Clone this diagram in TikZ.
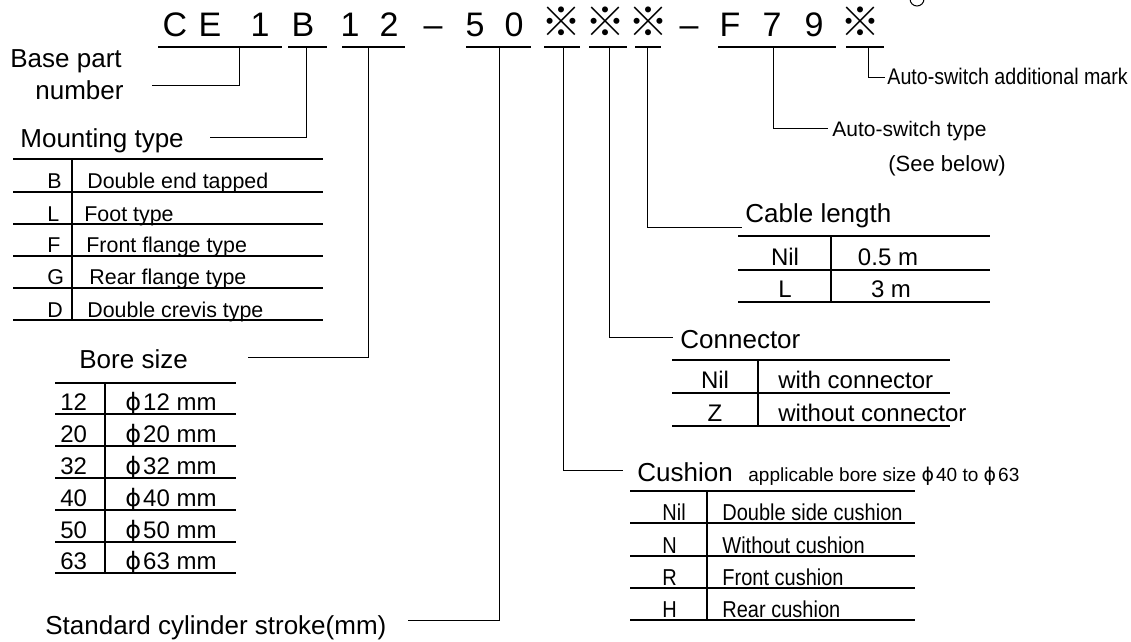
\documentclass[tikz,border=0pt]{standalone}
\usepackage{fontspec}
\setmainfont{Liberation Sans}
\newfontfamily\cjkfont{Noto Sans CJK JP}
\newfontfamily\narrowfont[FakeStretch=0.87]{Liberation Sans}
\newfontfamily\phifont{DejaVu Sans}
\newcommand{\borephi}{{\phifont ϕ}\hspace{1pt}}
\newcommand{\refmark}{{\cjkfont\fontsize{20}{22}\selectfont ※}}

\begin{document}
\begin{tikzpicture}[
  x=0.5pt, y=-0.5pt,
  code/.style={font=\fontsize{17}{20}\selectfont, inner sep=0pt, anchor=base},
  head/.style={font=\fontsize{13}{15}\selectfont, inner sep=0pt, anchor=base west},
  cell/.style={font=\fontsize{10.7}{13}\selectfont, inner sep=0pt, anchor=base west},
  bigcell/.style={font=\fontsize{12}{14}\selectfont, inner sep=0pt, anchor=base west},
  narrowcell/.style={font=\narrowfont\fontsize{11.5}{13}\selectfont, inner sep=0pt, anchor=base west},
  note/.style={font=\fontsize{10.5}{12}\selectfont, inner sep=0pt, anchor=base west},
  rule/.style={line width=0.75pt},
  lead/.style={line width=0.5pt}
]
\useasboundingbox (0,0) rectangle (1131,642);

\node[code] (c1)  at (175,37) {C};
\node[code] (c2)  at (210,37) {E};
\node[code] (c3)  at (260,37) {1};
\node[code] (c4)  at (303,37) {B};
\node[code] (c5)  at (350,37) {1};
\node[code] (c6)  at (389,37) {2};
\node[code] (c7)  at (433,37) {–};
\node[code] (c8)  at (475,37) {5};
\node[code] (c9)  at (514,37) {0};
\node[code] (c10) at (561,37) {\refmark};
\node[code] (c11) at (605,37) {\refmark};
\node[code] (c12) at (648,37) {\refmark};
\node[code] (c13) at (689,37) {–};
\node[code] (c14) at (730,37) {F};
\node[code] (c15) at (772,37) {7};
\node[code] (c16) at (814,37) {9};
\node[code] (c17) at (860,37) {\refmark};
\draw[lead] (917,-1) circle[radius=3.5pt];

\foreach \a/\b in {158/282, 288/327, 342/405, 466/531, 544/580, 589/627, 635/661, 718/836, 846/884}
  \draw[rule] (\a,47) -- (\b,47);

\coordinate (k1) at (239,47);
\coordinate (k2) at (306,47);
\coordinate (k3) at (368,47);
\coordinate (k4) at (499,47);
\coordinate (k5) at (563,47);
\coordinate (k6) at (609,47);
\coordinate (k7) at (647,47);
\coordinate (k8) at (773,47);
\coordinate (k9) at (868,47);
\coordinate (e1) at (152,86);
\coordinate (e2) at (210,138);
\coordinate (e3) at (248,357);
\coordinate (e4) at (408,620);
\coordinate (e5) at (623,470);
\coordinate (e6) at (673,337);
\coordinate (e7) at (742,228);
\coordinate (e8) at (828,129);
\coordinate (e9) at (885,78);
\draw[lead] (k1) |- (e1);
\draw[lead] (k2) |- (e2);
\draw[lead] (k3) |- (e3);
\draw[lead] (k4) |- (e4);
\draw[lead] (k5) |- (e5);
\draw[lead] (k6) |- (e6);
\draw[lead] (k7) |- (e7);
\draw[lead] (k8) |- (e8);
\draw[lead] (k9) |- (e9);

\node[head] (base1) at (10,68)  {Base part};
\node[head] (base2) at (35,100) {number};

\node[head] (mount) at (20,148) {Mounting type};
\foreach \y in {159,192,224,256,288,320}
  \draw[rule] (13,\y) -- (323,\y);
\draw[rule] (72,159) -- (72,320);
\node[cell] (mB)  at (47,189) {B};
\node[cell] (mBd) at (87,189) {Double end tapped};
\node[cell] (mL)  at (47,221) {L};
\node[cell] (mLd) at (84,221) {Foot type};
\node[cell] (mF)  at (47,253) {F};
\node[cell] (mFd) at (86,253) {Front flange type};
\node[cell] (mG)  at (47,285) {G};
\node[cell] (mGd) at (89,285) {Rear flange type};
\node[cell] (mD)  at (47,317) {D};
\node[cell] (mDd) at (87,317) {Double crevis type};

\node[head] (bore) at (79,368) {Bore size};
\foreach \y in {383,414,446,478,510,542,573}
  \draw[rule] (55,\y) -- (236,\y);
\draw[rule] (105,383) -- (105,573);
\node[bigcell] (b12)  at (60,410) {12};
\node[bigcell] (b12d) at (125,410) {\borephi12 mm};
\node[bigcell] (b20)  at (60,442) {20};
\node[bigcell] (b20d) at (125,442) {\borephi20 mm};
\node[bigcell] (b32)  at (60,474) {32};
\node[bigcell] (b32d) at (125,474) {\borephi32 mm};
\node[bigcell] (b40)  at (60,506) {40};
\node[bigcell] (b40d) at (125,506) {\borephi40 mm};
\node[bigcell] (b50)  at (60,538) {50};
\node[bigcell] (b50d) at (125,538) {\borephi50 mm};
\node[bigcell] (b63)  at (60,569) {63};
\node[bigcell] (b63d) at (125,569) {\borephi63 mm};

\node[head] (stroke) at (45,634) {Standard cylinder stroke(mm)};

\node[note, font=\narrowfont\fontsize{11.3}{13}\selectfont] (addmark) at (887,85) {Auto-switch additional mark};
\node[note] (swtype) at (832,137) {Auto-switch type};
\node[note, font=\fontsize{11}{13}\selectfont] (seebelow) at (888,172) {(See below)};

\node[head] (cable) at (745,222) {Cable length};
\foreach \y in {236,270,302}
  \draw[rule] (738,\y) -- (990,\y);
\draw[rule] (831,236) -- (831,302);
\node[bigcell, anchor=base] (cNil)  at (785,265) {Nil};
\node[bigcell, anchor=base] (cNild) at (888,265) {0.5 m};
\node[bigcell, anchor=base] (cL)    at (785,297) {L};
\node[bigcell, anchor=base] (cLd)   at (891,297) {3 m};

\node[head] (conn) at (680,348) {Connector};
\foreach \y in {360,393,426}
  \draw[rule] (672,\y) -- (950,\y);
\draw[rule] (758,360) -- (758,426);
\node[bigcell, anchor=base] (nNil)  at (715,388) {Nil};
\node[bigcell] (nNild) at (778,388) {with connector};
\node[bigcell, anchor=base] (nZ)    at (715,421) {Z};
\node[bigcell] (nZd)   at (778,421) {without connector};

\node[head] (cush) at (637,481) {Cushion};
\node[note, font=\fontsize{9.5}{11}\selectfont] (cushnote) at (748,481) {applicable bore size \borephi40 to \borephi63};
\foreach \y in {491,523,556,588,620}
  \draw[rule] (630,\y) -- (915,\y);
\draw[rule] (707,491) -- (707,620);
\node[narrowcell] (uNil)  at (662,520) {Nil};
\node[narrowcell] (uNild) at (722,520) {Double side cushion};
\node[narrowcell] (uN)    at (662,553) {N};
\node[narrowcell] (uNd)   at (722,553) {Without cushion};
\node[narrowcell] (uR)    at (662,585) {R};
\node[narrowcell] (uRd)   at (722,585) {Front cushion};
\node[narrowcell] (uH)    at (662,617) {H};
\node[narrowcell] (uHd)   at (722,617) {Rear cushion};
\end{tikzpicture}
\end{document}
